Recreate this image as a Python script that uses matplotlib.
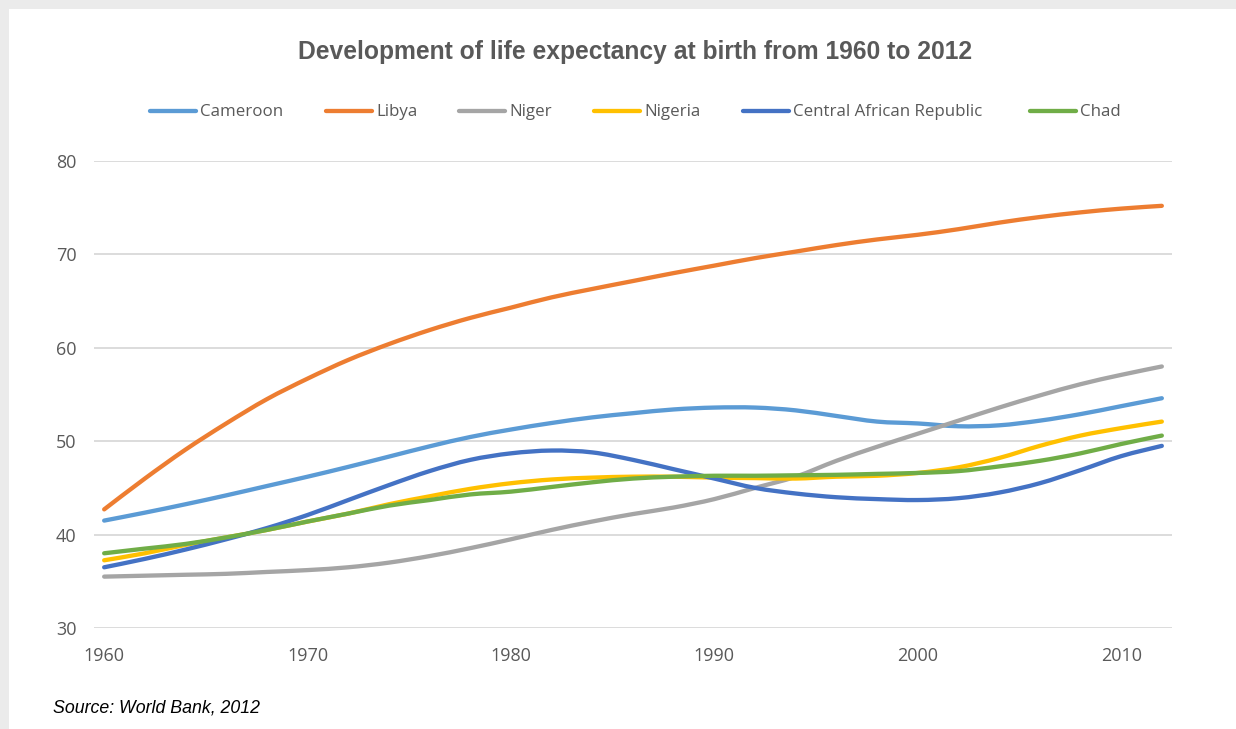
import matplotlib
matplotlib.use("Agg")
import matplotlib.pyplot as plt
from matplotlib.lines import Line2D
from matplotlib.patches import Rectangle, PathPatch
from matplotlib.path import Path

years = list(range(1960, 2013, 2))

cameroon = [41.5, 42.35, 43.25, 44.2, 45.2, 46.2, 47.25, 48.35, 49.45, 50.45,
            51.25, 51.95, 52.55, 53.0, 53.4, 53.6, 53.6, 53.3, 52.7, 52.1,
            51.9, 51.6, 51.7, 52.2, 52.9, 53.75, 54.6]
libya = [42.7, 46.0, 49.1, 51.9, 54.5, 56.7, 58.7, 60.4, 61.9, 63.2,
         64.3, 65.4, 66.3, 67.15, 68.0, 68.8, 69.6, 70.3, 71.0, 71.6,
         72.1, 72.7, 73.4, 74.0, 74.5, 74.9, 75.2]
niger = [35.5, 35.6, 35.7, 35.8, 36.0, 36.2, 36.5, 37.0, 37.7, 38.55,
         39.5, 40.5, 41.4, 42.2, 42.9, 43.8, 45.0, 46.2, 47.9, 49.4,
         50.8, 52.2, 53.6, 54.9, 56.1, 57.1, 58.0]
nigeria = [37.25, 38.0, 38.9, 39.7, 40.5, 41.4, 42.25, 43.25, 44.1, 44.9,
           45.5, 45.9, 46.1, 46.2, 46.2, 46.1, 46.05, 46.0, 46.2, 46.3,
           46.6, 47.2, 48.2, 49.5, 50.6, 51.4, 52.1]
car = [36.5, 37.4, 38.4, 39.5, 40.7, 42.1, 43.7, 45.3, 46.8, 48.0,
       48.7, 49.0, 48.8, 48.0, 47.0, 46.0, 45.0, 44.4, 44.0, 43.8,
       43.7, 43.9, 44.5, 45.5, 46.9, 48.4, 49.5]
chad = [38.0, 38.5, 39.0, 39.7, 40.5, 41.4, 42.25, 43.1, 43.7, 44.3,
        44.6, 45.1, 45.6, 46.0, 46.2, 46.3, 46.3, 46.35, 46.4, 46.5,
        46.6, 46.8, 47.3, 47.9, 48.7, 49.7, 50.6]

series_names = ["Cameroon", "Libya", "Niger", "Nigeria",
                "Central African Republic", "Chad"]
series_values = [cameroon, libya, niger, nigeria, car, chad]
colors = ["#5B9BD5", "#ED7D31", "#A5A5A5", "#FFC000", "#4472C4", "#70AD47"]

x_ticks = [1960, 1970, 1980, 1990, 2000, 2010]
y_ticks = [30, 40, 50, 60, 70, 80]

title = "Development of life expectancy at birth from 1960 to 2012"
source = "Source: World Bank, 2012"


def smooth_path(xs, ys):
    """Excel-style smoothed line: cubic Bezier segments through the points."""
    n = len(xs)
    verts = [(xs[0], ys[0])]
    codes = [Path.MOVETO]
    for i in range(n - 1):
        x0, y0 = (xs[i - 1], ys[i - 1]) if i > 0 else (xs[i], ys[i])
        x1, y1 = xs[i], ys[i]
        x2, y2 = xs[i + 1], ys[i + 1]
        x3, y3 = (xs[i + 2], ys[i + 2]) if i + 2 < n else (x2, y2)
        c1 = (x1 + (x2 - x0) / 6.0, y1 + (y2 - y0) / 6.0)
        c2 = (x2 - (x3 - x1) / 6.0, y2 - (y3 - y1) / 6.0)
        verts += [c1, c2, (x2, y2)]
        codes += [Path.CURVE4] * 3
    return Path(verts, codes)


W, H = 1236, 729
fig = plt.figure(figsize=(W / 100, H / 100), dpi=100)
fig.patch.set_facecolor("#ebebeb")
fig.patches.append(Rectangle((9 / W, 0), 1 - 9 / W, 1 - 9 / H,
                             transform=fig.transFigure, facecolor="white",
                             edgecolor="none", zorder=-10))

ax = fig.add_axes([94 / W, 1 - 628 / H, (1172 - 94) / W, (628 - 161) / H])
ax.set_zorder(1)
ax.set_facecolor("none")
ax.set_xlim(1959.5, 2012.5)
ax.set_ylim(30, 80)

for v in y_ticks:
    ax.axhline(v, color="#d9d9d9", lw=1.3, zorder=1)

for vals, col in zip(series_values, colors):
    ax.add_patch(PathPatch(smooth_path(years, vals), facecolor="none",
                           edgecolor=col, lw=3.1, capstyle="round",
                           joinstyle="round", zorder=3))

for s in ax.spines.values():
    s.set_visible(False)
ax.set_xticks(x_ticks)
ax.set_yticks(y_ticks)
ax.tick_params(length=0, labelsize=13, colors="#595959", pad=12.5)
ax.tick_params(axis="x", pad=13.5)
for lab in ax.get_xticklabels() + ax.get_yticklabels():
    lab.set_fontfamily("Open Sans")

fig.text(635 / W, 1 - 52 / H, title, ha="center", va="center",
         fontsize=17.7, fontweight="bold", color="#595959",
         family="Liberation Sans")

# legend
handle_x = [150, 326, 459, 594, 743, 1030]
ly = 1 - 111 / H
for hx, name, col in zip(handle_x, series_names, colors):
    fig.add_artist(Line2D([hx / W, (hx + 46) / W], [ly, ly], color=col,
                          lw=3.1, solid_capstyle="round",
                          transform=fig.transFigure))
    fig.text((hx + 50) / W, ly - 1 / H, name, ha="left", va="center",
             fontsize=12.2, color="#595959", family="Open Sans")

fig.text(53 / W, 1 - 708 / H, source, ha="left", va="center",
         fontsize=12.8, style="italic", color="black",
         family="Liberation Sans")

fig.savefig("out.png", dpi=100)
